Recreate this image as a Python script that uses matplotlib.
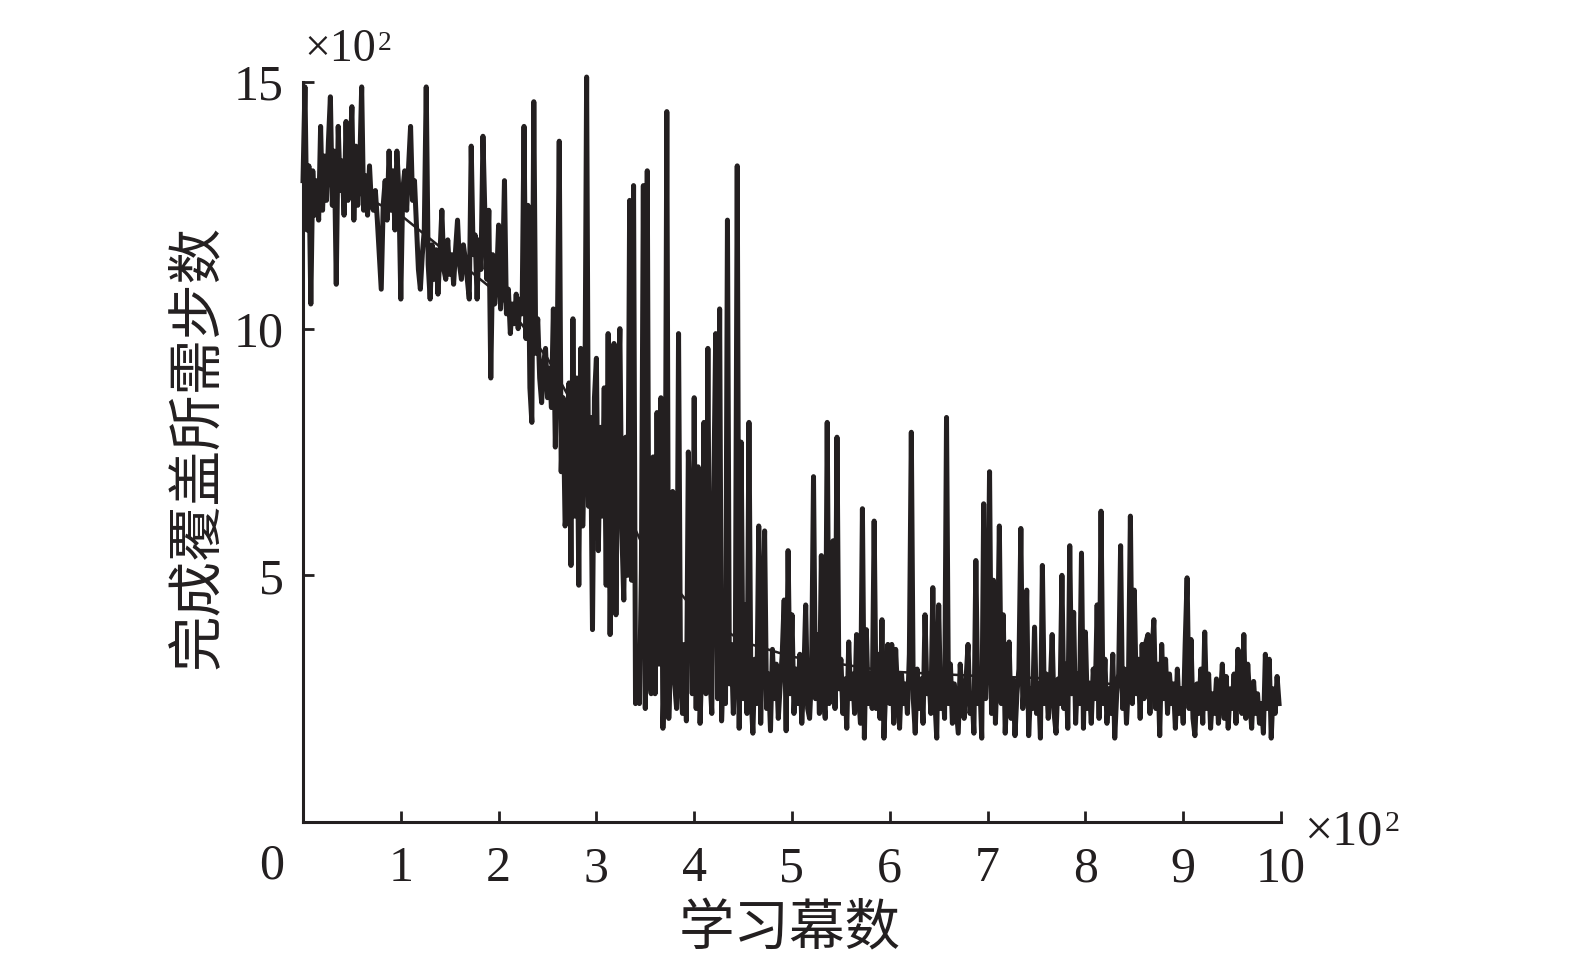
import numpy as np
import matplotlib
matplotlib.use("Agg")
import matplotlib.pyplot as plt

# steps needed to complete coverage (x10^2), one value per 2 episodes
seg_000 = [13.0,14.9,12.0,13.3,10.5,13.2,12.3,13.0,12.2,14.1,12.4,13.5,12.6,13.8,14.7,12.5,13.6,10.9,14.1,12.8,
           13.4,12.3,14.2,12.6,13.5,14.5,12.2,13.7,12.5,13.3,14.9,12.4,13.1,12.3,13.3,12.5,12.4,12.8,12.2,11.5,
           10.8,12.5,13.0,12.2,13.6,12.4,13.2,12.0,13.6,12.8]
seg_100 = [10.6,12.8,13.2,12.4,13.3,14.1,12.6,13.0,12.1,11.2,10.8,11.5,12.0,14.9,11.3,10.6,11.7,11.0,11.6,10.7,
           11.5,12.4,11.2,11.0,11.8,11.1,11.5,10.9,11.6,12.2,11.3,11.0,11.7,11.4,11.0,10.6,13.7,11.5,11.9,10.6,
           11.8,11.2,13.9,12.3,11.0,12.4,9.0,11.5,10.5,11.0]
seg_200 = [12.1,10.4,11.0,13.0,10.3,10.8,9.9,10.5,10.1,10.7,10.0,10.6,10.3,14.1,9.8,12.5,8.8,8.1,14.6,9.5,
           10.2,9.0,8.5,9.3,9.6,8.6,9.2,8.4,10.4,7.6,9.7,13.8,7.1,8.6,6.0,6.4,8.9,5.2,10.2,6.2,
           9.0,4.8,9.6,6.0,7.5,15.1,6.4,8.2,3.9,8.6]
seg_300 = [9.4,5.5,8.0,6.2,8.8,4.8,9.9,3.8,7.5,9.7,4.2,8.3,10.0,5.9,4.5,7.8,5.0,12.6,4.9,12.9,
           2.4,3.5,2.4,5.1,12.9,2.3,13.2,3.0,2.6,7.4,2.6,8.3,3.2,8.6,1.9,3.5,14.4,2.1,3.6,6.7,
           2.8,2.3,9.9,3.0,2.2,3.6,2.05,7.5,5.8,2.6]
seg_400 = [8.6,2.3,7.2,2.0,3.4,8.1,2.6,9.6,3.0,2.2,6.7,9.9,2.5,10.4,2.05,3.3,2.4,12.2,2.8,3.6,
           2.2,3.1,13.3,1.9,7.7,2.5,4.4,2.2,8.1,2.6,1.8,3.3,2.4,6.0,2.0,4.1,5.9,2.3,3.0,1.85,
           3.5,2.5,3.2,2.1,2.8,3.4,4.5,1.85,5.5,2.6]
seg_500 = [4.2,2.2,3.1,2.4,3.4,2.0,2.9,4.4,2.3,2.1,3.0,7.0,2.5,3.8,2.2,5.4,2.6,2.1,8.1,2.4,
           3.2,5.7,2.3,7.8,2.7,3.3,2.2,2.9,1.9,3.65,2.5,3.0,2.2,3.8,2.6,2.0,6.35,1.7,3.9,2.4,
           3.0,2.3,6.1,2.3,3.4,2.1,4.1,1.7,2.8,3.6]
seg_600 = [2.4,3.6,2.0,3.5,2.6,1.9,3.0,2.4,2.8,2.2,3.4,7.9,2.5,1.8,3.1,2.3,2.9,2.0,4.2,2.6,
           3.0,2.2,4.75,2.5,1.7,4.4,2.3,3.0,2.1,8.2,2.4,3.2,2.0,2.8,2.3,1.8,3.2,2.5,2.1,2.9,
           3.6,2.2,2.6,1.8,5.3,2.4,2.9,1.7,6.45,2.5]
seg_700 = [3.4,7.1,2.2,4.9,2.0,3.3,6.0,2.4,4.2,1.8,2.8,3.65,2.1,2.9,1.75,2.6,3.1,5.95,2.3,3.0,
           4.7,1.75,2.7,2.3,3.95,2.2,2.8,1.7,5.2,2.4,3.0,2.1,2.7,3.8,2.2,1.8,2.9,2.4,5.0,2.3,
           3.2,1.9,5.6,2.6,4.25,2.0,3.0,2.4,5.45,1.9]
seg_800 = [3.85,2.3,2.8,2.0,3.1,2.5,4.4,2.1,6.3,2.4,3.3,2.0,2.7,2.2,3.4,1.7,2.6,3.0,5.6,2.3,
           3.1,2.0,2.8,6.2,2.4,4.7,2.6,3.3,2.1,3.6,2.5,3.65,3.8,2.2,3.4,4.1,2.3,3.2,1.75,3.6,
           2.5,3.3,2.2,3.0,2.4,2.8,1.9,3.1,2.2,2.7]
seg_900 = [2.0,3.6,4.95,2.3,3.7,2.1,1.75,2.8,2.2,3.1,2.0,3.85,2.3,3.0,1.9,2.6,2.2,2.9,2.0,2.5,
           3.2,2.1,2.95,1.9,2.7,2.3,3.0,2.0,3.5,2.4,2.2,3.8,2.1,3.2,2.5,1.9,2.85,2.2,2.6,2.0,
           2.4,1.8,3.4,2.3,3.3,1.7,2.7,2.2,2.95,2.4]
steps = seg_000 + seg_100 + seg_200 + seg_300 + seg_400 + seg_500 + seg_600 + seg_700 + seg_800 + seg_900
episodes = np.arange(len(steps)) * 2 / 100.0   # in x10^2 episodes

# smoothed trend (x10^2 steps), every 50 episodes
trend_ep = [0, 50, 100, 150, 200, 250, 300, 350, 400, 450, 500, 550, 600, 650, 700, 750, 800, 850, 900, 950, 1000]
trend_val = [13.0, 12.8, 12.3, 11.5, 10.7, 9.4, 7.6, 5.5, 4.3, 3.65, 3.35, 3.2, 3.05, 3.0, 2.95, 2.92, 2.85, 2.75, 2.6, 2.45, 2.4]

x_ticks = [1, 2, 3, 4, 5, 6, 7, 8, 9, 10]
y_ticks = [5, 10, 15]

serif = ["Liberation Serif", "DejaVu Serif"]
cjk = ["Noto Sans CJK SC", "DejaVu Sans"]
col = "#231f20"
W, H = 1575, 969

fig = plt.figure(figsize=(15.75, 9.69), dpi=100)
ax = fig.add_axes([303 / W, 1 - 822 / H, (1281 - 303) / W, (822 - 82) / H])

ax.plot(episodes, steps, color=col, lw=3.6, clip_on=False, solid_joinstyle="round")
ax.plot(np.array(trend_ep) / 100.0, trend_val, color=col, lw=1.8)

ax.set_xlim(0, 10)
ax.set_ylim(0, 15)
for s in ["top", "right"]:
    ax.spines[s].set_visible(False)
for s in ["left", "bottom"]:
    ax.spines[s].set_linewidth(2.2)
    ax.spines[s].set_color(col)

ax.set_xticks(x_ticks)
ax.set_xticklabels([str(v) for v in x_ticks], fontfamily=serif, fontsize=36)
ax.set_yticks(y_ticks)
ax.set_yticklabels([str(v) for v in y_ticks], fontfamily=serif, fontsize=36)
ax.tick_params(axis="both", direction="in", length=8, width=2, color=col, labelcolor=col)
ax.tick_params(axis="x", pad=17)
ax.tick_params(axis="y", pad=14)

fig.text(272 / W, 1 - 866 / H, "0", ha="center", va="center",
         fontfamily=serif, fontsize=36, color=col)


def times_ten(x_px, y_px, size):
    t = fig.text(x_px / W, 1 - y_px / H, "×10", ha="left", va="center",
                 fontfamily=serif, fontsize=size, color=col)
    fig.canvas.draw()
    bb = t.get_window_extent()
    fig.text((bb.x1 + 2) / W, (bb.y1 - 2) / H, "2", ha="left", va="top",
             fontfamily=serif, fontsize=size * 0.6, color=col)


times_ten(304, 50, 33)
times_ten(1304, 832, 36)

fig.text(790 / W, 1 - 930 / H, "学习幕数", ha="center", va="center",
         fontfamily=cjk, fontsize=40, color=col)
fig.text(197 / W, 1 - 447 / H, "完成覆盖所需步数", ha="center", va="center", rotation=90,
         fontfamily=cjk, fontsize=40, color=col)

fig.savefig("out.png", dpi=100, facecolor="white")
